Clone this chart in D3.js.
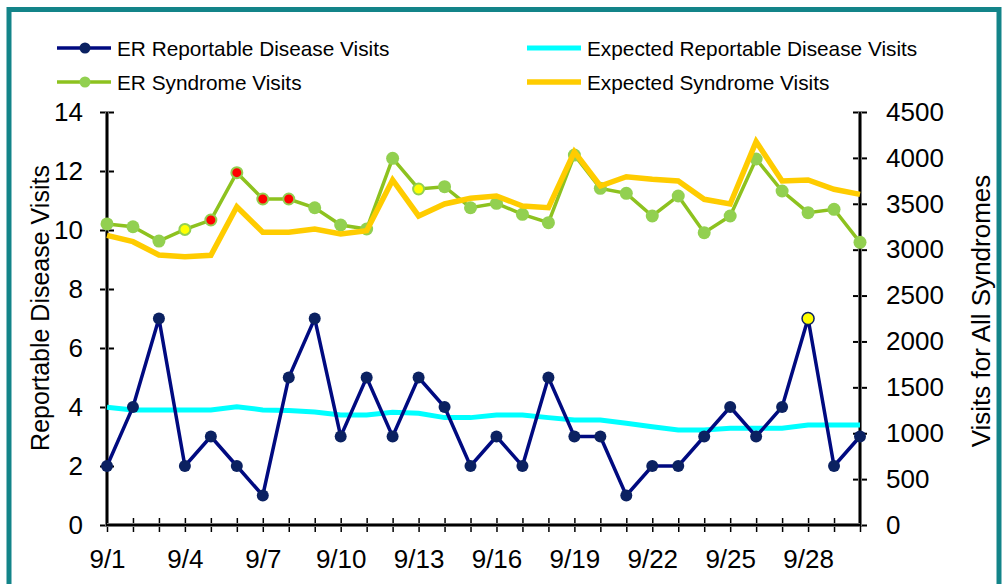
<!DOCTYPE html>
<html>
<head>
<meta charset="utf-8">
<script src="https://cdn.jsdelivr.net/npm/d3@7"></script>
<style>
  html, body { margin: 0; padding: 0; background: #fff; }
  svg { display: block; font-family: "Liberation Sans", Arial, sans-serif; }
</style>
</head>
<body>
<svg id="chart" width="1008" height="584"></svg>
<script>
// ---- data ----
const days = ["9/1","9/2","9/3","9/4","9/5","9/6","9/7","9/8","9/9","9/10","9/11","9/12","9/13","9/14","9/15",
              "9/16","9/17","9/18","9/19","9/20","9/21","9/22","9/23","9/24","9/25","9/26","9/27","9/28","9/29","9/30"];
const xTickLabels = ["9/1","9/4","9/7","9/10","9/13","9/16","9/19","9/22","9/25","9/28"];
const erReportable = [2,4,7,2,3,2,1,5,7,3,5,3,5,4,2,3,2,5,3,3,1,2,2,3,4,3,4,7,2,3];
const expectedReportable = [3.99,3.9,3.9,3.9,3.9,4.01,3.9,3.88,3.83,3.73,3.73,3.82,3.79,3.64,3.64,
                            3.73,3.73,3.64,3.56,3.56,3.45,3.33,3.22,3.22,3.28,3.28,3.28,3.39,3.39,3.39];
const erSyndrome = [3280,3250,3094,3221,3323,3839,3552,3552,3457,3269,3225,3995,3661,3686,3457,
                    3505,3385,3294,4031,3668,3614,3367,3585,3185,3367,3988,3639,3403,3440,3080];
const expectedSyndrome = [3156,3087,2942,2924,2938,3468,3189,3189,3225,3171,3207,3759,3367,3498,3560,
                          3585,3476,3457,4067,3694,3795,3767,3748,3549,3498,4177,3748,3759,3658,3603];
// alert flags per day ("" = normal, "yellow" / "red" = flagged)
const reportableAlerts = ["","","","","","","","","","","","","","","","","","","","","","","","","","","","yellow","",""];
const syndromeAlerts = ["","","","yellow","red","red","red","red","","","","","yellow","","","","","","","","","","","","","","","","",""];
const leftTicks = [0,2,4,6,8,10,12,14];
const rightTicks = [0,500,1000,1500,2000,2500,3000,3500,4000,4500];
const legendItems = ["ER Reportable Disease Visits","Expected Reportable Disease Visits","ER Syndrome Visits","Expected Syndrome Visits"];

// ---- layout ----
const svg = d3.select("#chart");
const L = 107, R = 860, T = 112, B = 525;

// frame
svg.append("rect").attr("x", 9).attr("y", 9.5).attr("width", 990).attr("height", 620)
  .attr("fill", "none").attr("stroke", "#138489").attr("stroke-width", 5);

const x = d3.scalePoint().domain(days).range([L, R]);
const yL = d3.scaleLinear().domain([0, 14]).range([B, T]);
const yR = d3.scaleLinear().domain([0, 4500]).range([B, T]);

const axisColor = "#000";

// left axis
const gL = svg.append("g").attr("transform", `translate(${L},0)`)
  .call(d3.axisLeft(yL).tickValues(leftTicks).tickSize(0).tickPadding(24));
gL.select(".domain").remove();
gL.selectAll(".tick line").remove();
gL.selectAll(".tick").append("line").attr("x1", -7).attr("x2", 7).attr("stroke", axisColor).attr("stroke-width", 2);
gL.selectAll("text").attr("font-size", 26).attr("fill", "#000").attr("font-family", "Liberation Sans, Arial, sans-serif");

// right axis
const gR = svg.append("g").attr("transform", `translate(${R},0)`)
  .call(d3.axisRight(yR).tickValues(rightTicks).tickFormat(d3.format("d")).tickSize(0).tickPadding(26));
gR.select(".domain").remove();
gR.selectAll(".tick line").remove();
gR.selectAll(".tick").append("line").attr("x1", -7).attr("x2", 7).attr("stroke", axisColor).attr("stroke-width", 2);
gR.selectAll("text").attr("font-size", 26).attr("fill", "#000").attr("font-family", "Liberation Sans, Arial, sans-serif");

// x axis
const gX = svg.append("g").attr("transform", `translate(0,${B})`)
  .call(d3.axisBottom(x).tickValues(days).tickSize(0).tickPadding(0));
gX.select(".domain").remove();
gX.selectAll(".tick text").remove();
gX.selectAll(".tick").append("line").attr("y1", -7).attr("y2", 7).attr("stroke", axisColor).attr("stroke-width", 1.5);
gX.selectAll(".tick").filter(d => xTickLabels.includes(d)).append("text")
  .attr("y", 43).attr("text-anchor", "middle").attr("font-size", 26).attr("fill", "#000")
  .attr("font-family", "Liberation Sans, Arial, sans-serif").text(d => d);

// axis lines
[[L, L, T, B + 1], [R, R, T, B + 1], [L, R, B, B]].forEach(([x1, x2, y1, y2]) => {
  svg.append("line").attr("x1", x1).attr("x2", x2).attr("y1", y1).attr("y2", y2)
    .attr("stroke", "#a0a0a0").attr("stroke-width", 4);
  svg.append("line").attr("x1", x1).attr("x2", x2).attr("y1", y1).attr("y2", y2)
    .attr("stroke", axisColor).attr("stroke-width", 2.5);
});

// axis titles
svg.append("text").attr("transform", "translate(49,308) rotate(-90)")
  .attr("text-anchor", "middle").attr("font-size", 25).attr("fill", "#000").text("Reportable Disease Visits");
svg.append("text").attr("transform", "translate(990,311) rotate(-90)")
  .attr("text-anchor", "middle").attr("font-size", 26).attr("fill", "#000").text("Visits for All Syndromes");

// ---- series ----
const lineL = d3.line().x((d, i) => x(days[i])).y(d => yL(d));
const lineR = d3.line().x((d, i) => x(days[i])).y(d => yR(d));

const cyan = "#00ffff", navy = "#000a80", navyMarker = "#0b2161", green = "#8dc21f", greenMarker = "#92d050", gold = "#ffcc00";

svg.append("path").datum(expectedReportable).attr("d", lineL)
  .attr("fill", "none").attr("stroke", cyan).attr("stroke-width", 5);

svg.append("path").datum(erReportable).attr("d", lineL)
  .attr("fill", "none").attr("stroke", navy).attr("stroke-width", 3.5);
svg.append("g").selectAll("circle").data(erReportable).join("circle")
  .attr("cx", (d, i) => x(days[i])).attr("cy", d => yL(d))
  .attr("r", d => 6)
  .attr("fill", (d, i) => reportableAlerts[i] === "yellow" ? "#ffff00" : reportableAlerts[i] === "red" ? "#ff0000" : navyMarker)
  .attr("stroke", navyMarker).attr("stroke-width", (d, i) => reportableAlerts[i] ? 1.5 : 0);

svg.append("path").datum(erSyndrome).attr("d", lineR)
  .attr("fill", "none").attr("stroke", green).attr("stroke-width", 3.5);
svg.append("g").selectAll("circle").data(erSyndrome).join("circle")
  .attr("cx", (d, i) => x(days[i])).attr("cy", d => yR(d))
  .attr("r", (d, i) => syndromeAlerts[i] ? 5.5 : 6.5)
  .attr("fill", (d, i) => syndromeAlerts[i] === "yellow" ? "#ffff00" : syndromeAlerts[i] === "red" ? "#ff0000" : greenMarker)
  .attr("stroke", greenMarker).attr("stroke-width", (d, i) => syndromeAlerts[i] ? 2 : 0);

svg.append("path").datum(expectedSyndrome).attr("d", lineR)
  .attr("fill", "none").attr("stroke", gold).attr("stroke-width", 5.5);

// ---- legend ----
const legendPos = [[57, 48], [527, 48], [57, 82], [527, 82]];
const legendStyles = [
  {stroke: navy, w: 3.5, marker: navyMarker},
  {stroke: cyan, w: 5, marker: null},
  {stroke: green, w: 3.5, marker: greenMarker},
  {stroke: gold, w: 5.5, marker: null}
];
const lg = svg.append("g").selectAll("g").data(legendItems).join("g")
  .attr("transform", (d, i) => `translate(${legendPos[i][0]},${legendPos[i][1]})`);
lg.append("line").attr("x1", 0).attr("x2", 54).attr("y1", 0).attr("y2", 0)
  .attr("stroke", (d, i) => legendStyles[i].stroke).attr("stroke-width", (d, i) => legendStyles[i].w);
lg.filter((d, i) => legendStyles[i].marker).append("circle").attr("cx", 28).attr("cy", 0).attr("r", 5.5)
  .attr("fill", (d, i) => legendStyles[legendItems.indexOf(d)].marker);
lg.append("text").attr("x", 60).attr("y", 8).attr("font-size", 20.8).attr("fill", "#000").text(d => d);
</script>
</body>
</html>
